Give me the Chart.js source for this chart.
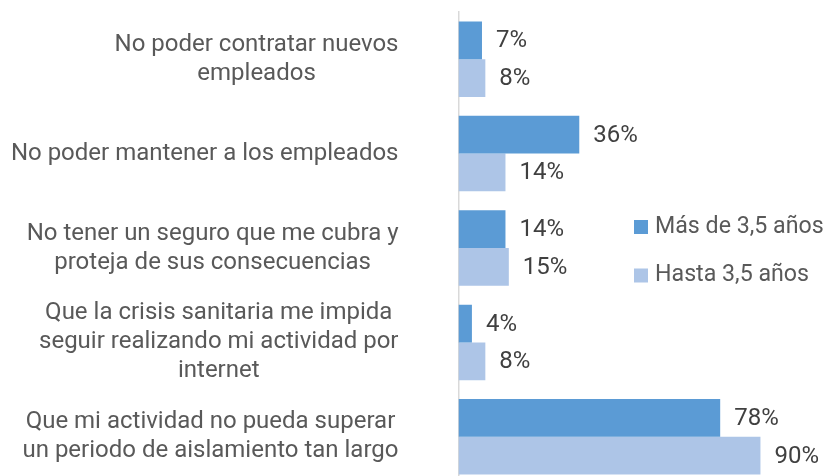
<!DOCTYPE html>
<html>
<head>
<meta charset="utf-8">
<script src="https://cdn.jsdelivr.net/npm/chart.js@4/dist/chart.umd.min.js"></script>
<style>
  html, body { margin: 0; padding: 0; background: #fff; overflow: hidden; }
  #wrap { width: 826px; height: 484px; }
</style>
</head>
<body>
<div id="wrap"><canvas id="c" width="826" height="484"></canvas></div>
<script>
// Categories (multi-line labels), series and their names
const categories = [
  ["No poder contratar nuevos", "empleados"],
  ["No poder mantener a los empleados"],
  ["No tener un seguro que me cubra y", "proteja de sus consecuencias"],
  ["Que la crisis sanitaria me impida", "seguir realizando mi actividad por", "internet"],
  ["Que mi actividad no pueda superar", "un periodo de aislamiento tan largo"]
];
const seriesNames = ["Más de 3,5 años", "Hasta 3,5 años"];
const masDe35 = [7, 36, 14, 4, 78];
const hasta35 = [8, 14, 15, 8, 90];

const FONT = "Roboto, 'Liberation Sans', sans-serif";
const LABEL_COLOR = "#595959";
const VALUE_COLOR = "#404040";

// Category labels: each block right-aligned, lines centred within the block
const categoryLabels = {
  id: "categoryLabels",
  afterDraw(chart) {
    const ctx = chart.ctx;
    const y = chart.scales.y;
    const lh = 29;
    ctx.save();
    ctx.font = "24px " + FONT;
    ctx.fillStyle = LABEL_COLOR;
    ctx.textAlign = "center";
    ctx.textBaseline = "middle";
    categories.forEach((lines, i) => {
      const yc = y.getPixelForValue(i);
      const widest = Math.max(...lines.map(l => ctx.measureText(l).width));
      const cx = y.right - 60 - widest / 2;
      lines.forEach((l, k) => {
        ctx.fillText(l, cx, yc + (k - (lines.length - 1) / 2) * lh);
      });
    });
    ctx.restore();
  }
};

// Value labels at the end of each bar
const valueLabels = {
  id: "valueLabels",
  afterDatasetsDraw(chart) {
    const ctx = chart.ctx;
    ctx.save();
    ctx.font = "24px " + FONT;
    ctx.fillStyle = VALUE_COLOR;
    ctx.textAlign = "left";
    ctx.textBaseline = "middle";
    chart.data.datasets.forEach((ds, di) => {
      chart.getDatasetMeta(di).data.forEach((el, i) => {
        ctx.fillText(ds.data[i] + "%", el.x + 14, el.y + 1);
      });
    });
    ctx.restore();
  }
};

// Legend placed inside the plot on the right
const sideLegend = {
  id: "sideLegend",
  afterDraw(chart) {
    const ctx = chart.ctx;
    const area = chart.chartArea;
    const x0 = area.right - 160;
    const y0 = area.top + 215;
    const rowGap = 48.5;
    ctx.save();
    ctx.font = "23.2px " + FONT;
    ctx.textAlign = "left";
    ctx.textBaseline = "middle";
    chart.data.datasets.forEach((ds, i) => {
      const yy = y0 + i * rowGap;
      ctx.fillStyle = ds.backgroundColor;
      ctx.fillRect(x0, yy - 7, 14, 14);
      ctx.fillStyle = LABEL_COLOR;
      ctx.fillText(ds.label, x0 + 21, yy);
    });
    ctx.restore();
  }
};

new Chart(document.getElementById("c"), {
  type: "bar",
  data: {
    labels: categories,
    datasets: [
      { label: seriesNames[0], data: masDe35, backgroundColor: "#5B9BD5" },
      { label: seriesNames[1], data: hasta35, backgroundColor: "#ADC5E7" }
    ]
  },
  options: {
    indexAxis: "y",
    responsive: false,
    animation: false,
    devicePixelRatio: 1,
    layout: { padding: { top: 12, right: 32, bottom: 0, left: 0 } },
    datasets: { bar: { categoryPercentage: 0.8, barPercentage: 1.0 } },
    plugins: { legend: { display: false }, tooltip: { enabled: false } },
    scales: {
      x: { display: false, min: 0, max: 100 },
      y: {
        grid: { display: false },
        border: { display: true, color: "#D9D9D9", width: 1.5 },
        ticks: { display: false },
        afterFit(scale) { scale.width = 458.5; }
      }
    }
  },
  plugins: [categoryLabels, valueLabels, sideLegend]
});
</script>
</body>
</html>
